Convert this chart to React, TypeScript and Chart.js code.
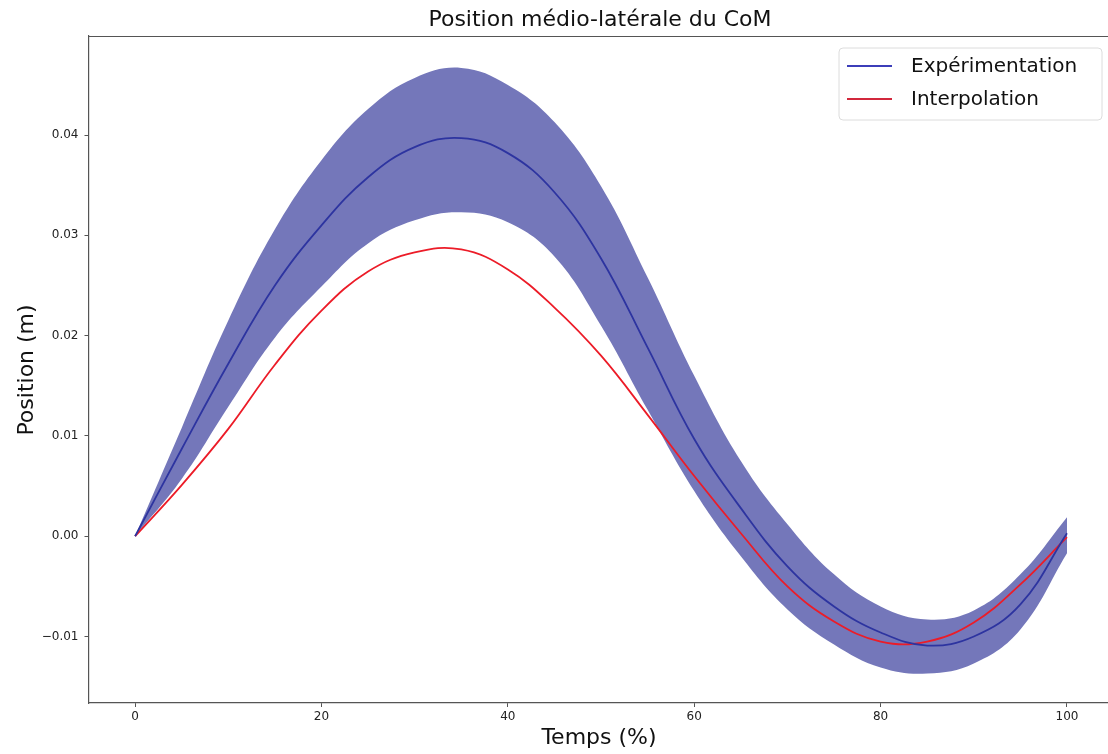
import React, { useEffect, useRef } from "react";
import { Chart, registerables } from "chart.js";

Chart.register(...registerables);

const TIME = [0, 5, 10, 15, 20, 25, 30, 35, 40, 45, 50, 55, 60, 65, 70, 75, 80, 85, 90, 95, 100];
const MEAN = [0, 0.0087, 0.0172, 0.025, 0.031, 0.0358, 0.0388, 0.0397, 0.0382, 0.0343, 0.0277, 0.0188, 0.0097, 0.0028, -0.003, -0.007, -0.0096, -0.0109, -0.01, -0.0068, 0.0003];
const UPPER = [0, 0.0108, 0.0215, 0.0306, 0.0375, 0.0426, 0.0457, 0.0467, 0.045, 0.0413, 0.0349, 0.0258, 0.016, 0.0075, 0.0012, -0.0038, -0.007, -0.0083, -0.0074, -0.0038, 0.0019];
const LOWER = [0, 0.0057, 0.0129, 0.0198, 0.0249, 0.0292, 0.0315, 0.0323, 0.0313, 0.0279, 0.021, 0.0126, 0.0045, -0.002, -0.0073, -0.0108, -0.0131, -0.0137, -0.0127, -0.0093, -0.0017];
const INTERP = [0, 0.0051, 0.0107, 0.0171, 0.0225, 0.0264, 0.0283, 0.0286, 0.0266, 0.0228, 0.018, 0.0121, 0.006, 0.0003, -0.005, -0.0085, -0.0105, -0.0105, -0.0086, -0.0048, -0.0001];

const X_TICKS = [0, 20, 40, 60, 80, 100];
const Y_TICKS = [-0.01, 0, 0.01, 0.02, 0.03, 0.04];

const TITLE = "Position médio-latérale du CoM";
const X_TITLE = "Temps (%)";
const Y_TITLE = "Position (m)";
const LEGEND_LABELS = ["Expérimentation", "Interpolation"];

const FONT = "'DejaVu Sans', sans-serif";
const BAND_COLOR = "rgb(116,119,186)";
const MEAN_COLOR = "rgb(45,52,160)";
const INTERP_COLOR = "rgb(236,28,40)";
const LEGEND_COLORS = ["rgb(60,62,185)", "rgb(210,40,60)"];
const AXIS_COLOR = "#555";

const pts = (ys: number[]) => TIME.map((t, i) => ({ x: t, y: ys[i] }));

const decorPlugin = {
  id: "decor",
  afterDraw(chart: any) {
    const { ctx, chartArea } = chart;
    ctx.save();
    ctx.strokeStyle = AXIS_COLOR;
    ctx.lineWidth = 1.2;
    ctx.beginPath();
    ctx.moveTo(chartArea.left, chartArea.top + 0.5);
    ctx.lineTo(chartArea.right, chartArea.top + 0.5);
    ctx.stroke();

    ctx.fillStyle = "#111";
    ctx.textAlign = "center";
    ctx.textBaseline = "middle";
    ctx.font = `22px ${FONT}`;
    ctx.fillText(TITLE, 600, 20);
    ctx.fillText(X_TITLE, 599, 738);
    ctx.save();
    ctx.translate(27, 370);
    ctx.rotate(-Math.PI / 2);
    ctx.fillText(Y_TITLE, 0, 0);
    ctx.restore();

    const bx = 839, by = 48, bw = 263, bh = 72, r = 4;
    ctx.fillStyle = "rgba(255,255,255,0.85)";
    ctx.strokeStyle = "#dcdcdc";
    ctx.lineWidth = 1;
    ctx.beginPath();
    ctx.moveTo(bx + r, by);
    ctx.lineTo(bx + bw - r, by);
    ctx.quadraticCurveTo(bx + bw, by, bx + bw, by + r);
    ctx.lineTo(bx + bw, by + bh - r);
    ctx.quadraticCurveTo(bx + bw, by + bh, bx + bw - r, by + bh);
    ctx.lineTo(bx + r, by + bh);
    ctx.quadraticCurveTo(bx, by + bh, bx, by + bh - r);
    ctx.lineTo(bx, by + r);
    ctx.quadraticCurveTo(bx, by, bx + r, by);
    ctx.closePath();
    ctx.fill();
    ctx.stroke();

    ctx.font = `20px ${FONT}`;
    ctx.textAlign = "left";
    LEGEND_LABELS.forEach((lab, i) => {
      const y = 66 + i * 33;
      ctx.strokeStyle = LEGEND_COLORS[i];
      ctx.lineWidth = 2;
      ctx.beginPath();
      ctx.moveTo(847, y);
      ctx.lineTo(892, y);
      ctx.stroke();
      ctx.fillStyle = "#111";
      ctx.fillText(lab, 911, y + 1);
    });
    ctx.restore();
  },
};

export default function App() {
  const ref = useRef<HTMLCanvasElement | null>(null);

  useEffect(() => {
    if (!ref.current) return;
    const common = {
      pointRadius: 0,
      tension: 0.4,
    };
    const chart = new Chart(ref.current, {
      type: "line",
      data: {
        datasets: [
          {
            ...common,
            label: "upper",
            data: pts(UPPER),
            borderWidth: 0,
            borderColor: "rgba(0,0,0,0)",
            backgroundColor: BAND_COLOR,
            fill: "+1",
          },
          {
            ...common,
            label: "lower",
            data: pts(LOWER),
            borderWidth: 0,
            borderColor: "rgba(0,0,0,0)",
            fill: false,
          },
          {
            ...common,
            label: LEGEND_LABELS[0],
            data: pts(MEAN),
            borderWidth: 1.8,
            borderColor: MEAN_COLOR,
            fill: false,
          },
          {
            ...common,
            label: LEGEND_LABELS[1],
            data: pts(INTERP),
            borderWidth: 1.8,
            borderColor: INTERP_COLOR,
            fill: false,
          },
        ],
      },
      options: {
        animation: false,
        responsive: false,
        layout: { padding: { top: 36, left: 0, right: 0, bottom: 0 } },
        plugins: {
          legend: { display: false },
          title: { display: false },
          tooltip: { enabled: false },
          filler: { drawTime: "beforeDatasetsDraw" },
        } as any,
        scales: {
          x: {
            type: "linear",
            min: -5,
            max: 104.4,
            afterBuildTicks: (s: any) => {
              s.ticks = X_TICKS.map((v) => ({ value: v }));
            },
            afterFit: (s: any) => {
              s.height = 51;
            },
            grid: { drawOnChartArea: false, drawTicks: true, tickLength: 4, color: AXIS_COLOR },
            border: { display: true, color: AXIS_COLOR, width: 1.2 },
            ticks: {
              color: "#222",
              font: { family: FONT, size: 12 },
              padding: 3,
              maxRotation: 0,
              callback: (v: any) => String(v),
            },
          },
          y: {
            type: "linear",
            min: -0.01663,
            max: 0.04988,
            afterBuildTicks: (s: any) => {
              s.ticks = Y_TICKS.map((v) => ({ value: v }));
            },
            afterFit: (s: any) => {
              s.width = 88.5;
            },
            grid: { drawOnChartArea: false, drawTicks: true, tickLength: 4, color: AXIS_COLOR },
            border: { display: true, color: AXIS_COLOR, width: 1.2 },
            ticks: {
              color: "#222",
              font: { family: FONT, size: 12 },
              padding: 6,
              callback: (v: any) => {
                const n = Number(v);
                const s = Math.abs(n).toFixed(2);
                return n < -1e-9 ? "\u2212" + s : s;
              },
            },
          },
        },
      },
      plugins: [decorPlugin],
    });
    return () => chart.destroy();
  }, []);

  return (
    <div style={{ position: "absolute", left: 0, top: 0, width: 1108, height: 754, background: "#fff" }}>
      <canvas ref={ref} width={1108} height={754} style={{ display: "block" }} />
    </div>
  );
}
